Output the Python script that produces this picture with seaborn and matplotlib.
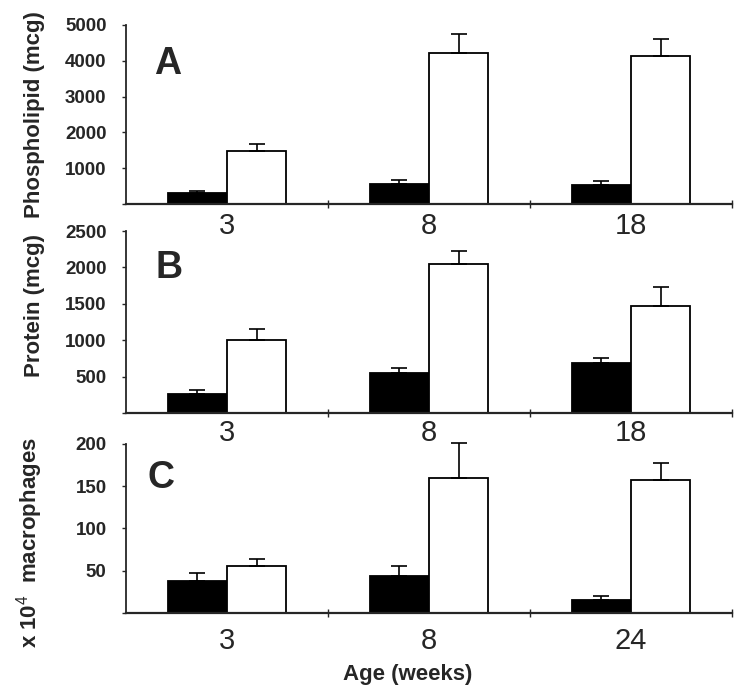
import pandas as pd
import matplotlib
matplotlib.use("Agg")
import matplotlib.pyplot as plt
import seaborn as sns

# ages on the x axis of each panel
ages_ab = ["3", "8", "18"]
ages_c = ["3", "8", "24"]
groups = ["black", "white"]

# panel A: phospholipid (mcg)
phos_black = [300, 550, 530]
phos_black_err = [70, 110, 110]
phos_white = [1470, 4230, 4120]
phos_white_err = [200, 520, 480]

# panel B: protein (mcg)
prot_black = [260, 545, 690]
prot_black_err = [50, 80, 70]
prot_white = [1000, 2050, 1475]
prot_white_err = [150, 175, 260]

# panel C: macrophages x 10^4
macro_black = [38, 44, 15]
macro_black_err = [9, 12, 5]
macro_white = [56, 160, 157]
macro_white_err = [8, 41, 20]

sns.set_style("ticks")
plt.rcParams["font.family"] = ["Liberation Sans", "DejaVu Sans"]
plt.rcParams["mathtext.fontset"] = "custom"
plt.rcParams["mathtext.rm"] = "Liberation Sans"
plt.rcParams["mathtext.bf"] = "Liberation Sans:bold"


def make_frame(ages, black, white):
    return pd.DataFrame({
        "age": ages * 2,
        "value": black + white,
        "group": ["black"] * len(ages) + ["white"] * len(ages),
    })


def draw_panel(ax, ages, black, black_err, white, white_err, ymax, step,
               letter, ylabel, xpad, letter_pos, label_y):
    df = make_frame(ages, black, white)
    sns.barplot(data=df, x="age", y="value", hue="group", order=ages,
                hue_order=groups, palette={"black": "black", "white": "white"},
                width=0.585, edgecolor="black", linewidth=1.3, saturation=1,
                errorbar=None, legend=False, ax=ax)
    for cont, err in zip(ax.containers, [black_err, white_err]):
        xs = [p.get_x() + p.get_width() / 2 for p in cont.patches]
        ys = [p.get_height() for p in cont.patches]
        eb = ax.errorbar(xs, ys, yerr=[[0] * len(err), err], fmt="none",
                         ecolor="black", elinewidth=1.2, capsize=5.5,
                         capthick=1.2)
        for art in eb.lines[1] + eb.lines[2]:
            art.set_clip_on(False)

    ax.patch.set_visible(False)
    ax.set_xlim(-0.5, len(ages) - 0.5)
    ax.set_ylim(0, ymax)
    ticks = list(range(0, ymax + 1, step))
    ax.set_yticks(ticks)
    ax.set_yticklabels([""] + [str(t) for t in ticks[1:]], fontweight="bold",
                       fontsize=13.5)
    ax.tick_params(axis="y", length=3, width=1, pad=11)
    ax.set_xticks(range(len(ages)))
    ax.set_xticklabels(ages, fontsize=21)
    ax.tick_params(axis="x", which="major", length=0, pad=xpad)
    ax.set_xticks([i + 0.5 for i in range(len(ages))], minor=True)
    ax.tick_params(axis="x", which="minor", length=6, width=1,
                   direction="inout")
    for side in ["top", "right"]:
        ax.spines[side].set_visible(False)
    ax.spines["left"].set_linewidth(1.3)
    ax.spines["bottom"].set_linewidth(1.6)
    ax.set_xlabel("")
    ax.set_ylabel(ylabel, fontsize=16, fontweight="bold")
    ax.yaxis.set_label_coords(-0.134, label_y)
    ax.text(letter_pos[0], letter_pos[1], letter, transform=ax.transAxes,
            fontsize=27, fontweight="bold", ha="center", va="center")


fig = plt.figure(figsize=(7.43, 6.96), dpi=100)
left, width = 0.1696, 0.8156
ax_a = fig.add_axes([left, 0.7069, width, 0.2572])
ax_b = fig.add_axes([left, 0.4066, width, 0.2615])
ax_c = fig.add_axes([left, 0.1193, width, 0.2428])

draw_panel(ax_a, ages_ab, phos_black, phos_black_err, phos_white,
           phos_white_err, 5000, 1000, "A", "Phospholipid (mcg)", 6,
           (0.069, 0.782), 0.5)
draw_panel(ax_b, ages_ab, prot_black, prot_black_err, prot_white,
           prot_white_err, 2500, 500, "B", "Protein (mcg)", 4,
           (0.071, 0.797), 0.59)
draw_panel(ax_c, ages_c, macro_black, macro_black_err, macro_white,
           macro_white_err, 200, 50, "C", r"x 10$^4$  macrophages", 10,
           (0.058, 0.80), 0.414)

ax_c.set_xlabel("Age (weeks)", fontsize=16, fontweight="bold")
ax_c.xaxis.set_label_coords(0.464, -0.30)

fig.savefig("out.png", dpi=100)
plt.close(fig)
